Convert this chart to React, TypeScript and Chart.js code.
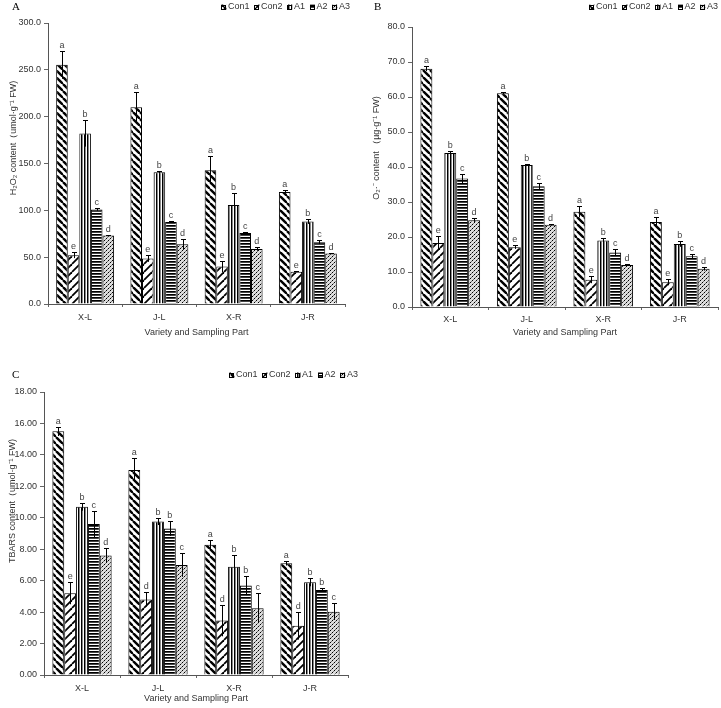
import React, { useEffect, useRef } from 'react';
import { Chart, registerables } from 'chart.js';
Chart.register(...registerables);

// ---------- DATA ----------
const categories = ['X-L', 'J-L', 'X-R', 'J-R'];
const seriesNames = ['Con1', 'Con2', 'A1', 'A2', 'A3'];

// Panel A: H2O2 content
const h2o2Con1 = [255.4, 210.0, 142.9, 119.7];
const h2o2Con2 = [52.0, 48.5, 40.0, 34.5];
const h2o2A1 = [182.0, 140.7, 105.8, 88.0];
const h2o2A2 = [101.0, 87.6, 75.9, 66.0];
const h2o2A3 = [73.0, 63.8, 58.8, 54.0];
const h2o2ErrCon1 = [15, 16, 15, 1.5];
const h2o2ErrCon2 = [3, 3.5, 6, 0.5];
const h2o2ErrA1 = [14, 1.5, 13, 2.5];
const h2o2ErrA2 = [1.5, 1, 1, 2];
const h2o2ErrA3 = [0.5, 6, 2, 0.5];
const h2o2LetCon1 = ['a', 'a', 'a', 'a'];
const h2o2LetCon2 = ['e', 'e', 'e', 'e'];
const h2o2LetA1 = ['b', 'b', 'b', 'b'];
const h2o2LetA2 = ['c', 'c', 'c', 'c'];
const h2o2LetA3 = ['d', 'd', 'd', 'd'];

// Panel B: O2- content
const o2Con1 = [68.1, 61.1, 27.2, 24.3];
const o2Con2 = [18.3, 17.1, 7.8, 7.1];
const o2A1 = [44.0, 40.6, 19.0, 18.0];
const o2A2 = [36.7, 34.5, 15.6, 14.5];
const o2A3 = [24.8, 23.5, 12.0, 10.9];
const o2ErrCon1 = [0.7, 0.4, 1.6, 1.5];
const o2ErrCon2 = [2.0, 0.5, 1.0, 0.9];
const o2ErrA1 = [0.7, 0.2, 0.6, 0.8];
const o2ErrA2 = [1.4, 1.0, 1.0, 0.7];
const o2ErrA3 = [0.5, 0.2, 0.2, 0.5];
const o2LetCon1 = ['a', 'a', 'a', 'a'];
const o2LetCon2 = ['e', 'e', 'e', 'e'];
const o2LetA1 = ['b', 'b', 'b', 'b'];
const o2LetA2 = ['c', 'c', 'c', 'c'];
const o2LetA3 = ['d', 'd', 'd', 'd'];

// Panel C: TBARS content
const tbarsCon1 = [15.5, 13.04, 8.28, 7.11];
const tbarsCon2 = [5.2, 4.8, 3.46, 3.14];
const tbarsA1 = [10.7, 9.77, 6.88, 5.9];
const tbarsA2 = [9.6, 9.32, 5.69, 5.41];
const tbarsA3 = [7.6, 7.0, 4.25, 4.03];
const tbarsErrCon1 = [0.3, 0.76, 0.28, 0.15];
const tbarsErrCon2 = [0.7, 0.45, 1.0, 0.89];
const tbarsErrA1 = [0.25, 0.23, 0.74, 0.26];
const tbarsErrA2 = [0.85, 0.47, 0.61, 0.13];
const tbarsErrA3 = [0.45, 0.75, 0.95, 0.53];
const tbarsLetCon1 = ['a', 'a', 'a', 'a'];
const tbarsLetCon2 = ['e', 'd', 'd', 'd'];
const tbarsLetA1 = ['b', 'b', 'b', 'b'];
const tbarsLetA2 = ['c', 'b', 'b', 'b'];
const tbarsLetA3 = ['d', 'c', 'c', 'c'];

const xTitle = 'Variety and Sampling Part';
const yTitleA = 'H\u2082O\u2082 content\uFF08umol\u00B7g\u207B\u00B9 FW)';
const yTitleB = 'O\u2082\u00B7\u207B content \uFF08\u00B5g\u00B7g\u207B\u00B9 FW)';
const yTitleC = 'TBARS content\uFF08umol\u00B7g\u207B\u00B9 FW)';

// ---------- STYLE ----------
const FONT = "'Liberation Sans Narrow', 'Arial Narrow', 'Liberation Sans', Arial, sans-serif";
const TXT = '#333';

function makePattern(kind: string): CanvasPattern | string {
  const c = document.createElement('canvas');
  let w = 7, h = 7;
  if (kind === 'Con2') { w = 8; h = 8; }
  if (kind === 'A1') { w = 3; h = 1; }
  if (kind === 'A2') { w = 1; h = 3; }
  if (kind === 'A3') { w = 4; h = 4; }
  c.width = w; c.height = h;
  const g = c.getContext('2d')!;
  g.fillStyle = '#fff';
  g.fillRect(0, 0, w, h);
  g.strokeStyle = '#000';
  g.fillStyle = '#000';
  if (kind === 'Con1') {
    g.lineWidth = 2.4;
    for (const o of [-w, 0, w]) {
      g.beginPath(); g.moveTo(o, 0); g.lineTo(o + w, h); g.stroke();
    }
  } else if (kind === 'Con2') {
    g.lineWidth = 1.8;
    for (const o of [-w, 0, w]) {
      g.beginPath(); g.moveTo(o, h); g.lineTo(o + w, 0); g.stroke();
    }
  } else if (kind === 'A1') {
    g.fillStyle = '#000'; g.fillRect(0, 0, 1, 1);
    g.fillStyle = '#888'; g.fillRect(1, 0, 1, 1);
  } else if (kind === 'A2') {
    g.fillStyle = '#000'; g.fillRect(0, 0, 1, 1);
    g.fillStyle = '#444'; g.fillRect(0, 1, 1, 1);
  } else if (kind === 'A3') {
    g.fillStyle = '#ddd'; g.fillRect(0, 0, 4, 4);
    g.fillStyle = '#000'; g.fillRect(0, 0, 1, 1); g.fillRect(2, 2, 1, 1);
    g.fillStyle = '#777'; g.fillRect(1, 3, 1, 1); g.fillRect(3, 1, 1, 1);
  }
  return g.createPattern(c, 'repeat') || '#888';
}

const annotPlugin = {
  id: 'annot',
  afterDatasetsDraw(chart: any) {
    const { ctx } = chart;
    const ys = chart.scales.y;
    chart.data.datasets.forEach((ds: any, i: number) => {
      const meta = chart.getDatasetMeta(i);
      meta.data.forEach((el: any, j: number) => {
        const v = ds.data[j];
        const e = ds.errors[j];
        const yt = Math.round(ys.getPixelForValue(v + e)) + 0.5;
        const yb = ys.getPixelForValue(Math.max(0, v - e));
        const x = Math.round(el.x) + 0.5;
        ctx.save();
        ctx.strokeStyle = '#000';
        ctx.lineWidth = 1;
        ctx.beginPath();
        ctx.moveTo(x, yb); ctx.lineTo(x, yt);
        ctx.moveTo(x - 2.5, yt); ctx.lineTo(x + 2.5, yt);
        ctx.stroke();
        ctx.fillStyle = '#444';
        ctx.font = `9px ${FONT}`;
        ctx.textAlign = 'center';
        ctx.textBaseline = 'alphabetic';
        ctx.fillText(ds.letters[j], el.x, yt - 4);
        ctx.restore();
      });
    });
  },
  afterDraw(chart: any, _args: any, opts: any) {
    const { ctx } = chart;
    ctx.save();
    // panel letter
    ctx.fillStyle = '#000';
    ctx.font = "11px 'Liberation Serif', 'Times New Roman', serif";
    ctx.textAlign = 'left';
    ctx.textBaseline = 'middle';
    ctx.fillText(opts.panel, opts.panelX, opts.panelY);
    // y title
    ctx.save();
    ctx.translate(opts.yTitleX, opts.yTitleY);
    ctx.rotate(-Math.PI / 2);
    ctx.fillStyle = TXT;
    ctx.font = `9px ${FONT}`;
    ctx.textAlign = 'center';
    ctx.textBaseline = 'middle';
    ctx.fillText(opts.yTitle, 0, 0);
    ctx.restore();
    // legend (right aligned)
    ctx.font = `9px ${FONT}`;
    ctx.textBaseline = 'middle';
    ctx.textAlign = 'left';
    const box = 5, gap = 1.5, itemGap = 5;
    const items = chart.data.datasets.map((ds: any) => ({ ds, w: box + gap + ctx.measureText(ds.label).width }));
    const total = items.reduce((s: number, it: any) => s + it.w, 0) + itemGap * (items.length - 1);
    let x = opts.legendRight - total;
    const y = opts.legendY;
    items.forEach((it: any) => {
      ctx.fillStyle = it.ds.backgroundColor;
      ctx.fillRect(x, y - box / 2, box, box);
      ctx.strokeStyle = '#000';
      ctx.lineWidth = 1;
      ctx.strokeRect(Math.round(x) + 0.5, Math.round(y - box / 2) + 0.5, box - 1, box - 1);
      ctx.fillStyle = TXT;
      ctx.fillText(it.ds.label, x + box + gap, y);
      x += it.w + itemGap;
    });
    ctx.restore();
  },
};

interface PanelProps {
  width: number; height: number;
  values: number[][]; errors: number[][]; letters: string[][];
  max: number; step: number; decimals: number;
  padTop: number; padRight: number; yWidth: number; xHeight: number;
  panel: string; panelX: number; panelY: number;
  yTitle: string; yTitleX: number; yTitleY: number;
  legendRight: number; legendY: number;
  xTickPad: number; xTitlePadBottom: number;
}

function Panel(p: PanelProps) {
  const ref = useRef<HTMLCanvasElement>(null);
  useEffect(() => {
    const kinds = ['Con1', 'Con2', 'A1', 'A2', 'A3'];
    const datasets = seriesNames.map((name, i) => ({
      label: name,
      data: p.values[i],
      errors: p.errors[i],
      letters: p.letters[i],
      backgroundColor: makePattern(kinds[i]),
      borderColor: '#000',
      borderWidth: 1,
      categoryPercentage: 0.78,
      barPercentage: 1.0,
    }));
    const chart = new Chart(ref.current!, {
      type: 'bar',
      data: { labels: categories, datasets: datasets as any },
      plugins: [annotPlugin as any],
      options: {
        responsive: false,
        animation: false,
        layout: { padding: { top: p.padTop, right: p.padRight, left: 0, bottom: 0 } },
        plugins: {
          legend: { display: false },
          tooltip: { enabled: false },
          annot: {
            panel: p.panel, panelX: p.panelX, panelY: p.panelY,
            yTitle: p.yTitle, yTitleX: p.yTitleX, yTitleY: p.yTitleY,
            legendRight: p.legendRight, legendY: p.legendY,
          },
        } as any,
        scales: {
          x: {
            grid: { display: true, drawOnChartArea: false, tickLength: 3, color: '#666', offset: true },
            border: { color: '#555', width: 1 },
            ticks: { font: { family: FONT, size: 9 }, color: TXT, padding: p.xTickPad, maxRotation: 0 },
            title: { display: true, text: xTitle, font: { family: FONT, size: 9 }, color: TXT, padding: { top: 0, bottom: p.xTitlePadBottom } },
            afterFit: (s: any) => { s.height = p.xHeight; },
          },
          y: {
            min: 0, max: p.max,
            grid: { display: true, drawOnChartArea: false, tickLength: 4, color: '#666' },
            border: { color: '#555', width: 1 },
            ticks: {
              stepSize: p.step,
              font: { family: FONT, size: 9 }, color: TXT, padding: 3,
              callback: (v: any) => Number(v).toFixed(p.decimals),
            },
            afterFit: (s: any) => { s.width = p.yWidth; },
          },
        },
      } as any,
    });
    return () => chart.destroy();
  }, []);
  return <canvas ref={ref} width={p.width} height={p.height} style={{ display: 'block', width: p.width, height: p.height }} />;
}

export default function App() {
  return (
    <div style={{ position: 'absolute', left: 0, top: 0, width: 721, height: 708, background: '#fff' }}>
      <div style={{ position: 'absolute', left: 0, top: 0 }}>
        <Panel width={360} height={340}
          values={[h2o2Con1, h2o2Con2, h2o2A1, h2o2A2, h2o2A3]}
          errors={[h2o2ErrCon1, h2o2ErrCon2, h2o2ErrA1, h2o2ErrA2, h2o2ErrA3]}
          letters={[h2o2LetCon1, h2o2LetCon2, h2o2LetA1, h2o2LetA2, h2o2LetA3]}
          max={300} step={50} decimals={1}
          padTop={23} padRight={15} yWidth={48} xHeight={36}
          panel="A" panelX={12} panelY={7}
          yTitle={yTitleA} yTitleX={14} yTitleY={138}
          legendRight={350} legendY={7}
          xTickPad={5} xTitlePadBottom={2} />
      </div>
      <div style={{ position: 'absolute', left: 360, top: 0 }}>
        <Panel width={361} height={340}
          values={[o2Con1, o2Con2, o2A1, o2A2, o2A3]}
          errors={[o2ErrCon1, o2ErrCon2, o2ErrA1, o2ErrA2, o2ErrA3]}
          letters={[o2LetCon1, o2LetCon2, o2LetA1, o2LetA2, o2LetA3]}
          max={80} step={10} decimals={1}
          padTop={27} padRight={3} yWidth={52} xHeight={33}
          panel="B" panelX={14} panelY={7}
          yTitle={yTitleB} yTitleX={17} yTitleY={148}
          legendRight={358} legendY={7}
          xTickPad={4} xTitlePadBottom={2} />
      </div>
      <div style={{ position: 'absolute', left: 0, top: 360 }}>
        <Panel width={360} height={348}
          values={[tbarsCon1, tbarsCon2, tbarsA1, tbarsA2, tbarsA3]}
          errors={[tbarsErrCon1, tbarsErrCon2, tbarsErrA1, tbarsErrA2, tbarsErrA3]}
          letters={[tbarsLetCon1, tbarsLetCon2, tbarsLetA1, tbarsLetA2, tbarsLetA3]}
          max={18} step={2} decimals={2}
          padTop={32} padRight={12} yWidth={44} xHeight={33}
          panel="C" panelX={12} panelY={15}
          yTitle={yTitleC} yTitleX={13} yTitleY={141}
          legendRight={358} legendY={15}
          xTickPad={5} xTitlePadBottom={4} />
      </div>
    </div>
  );
}
